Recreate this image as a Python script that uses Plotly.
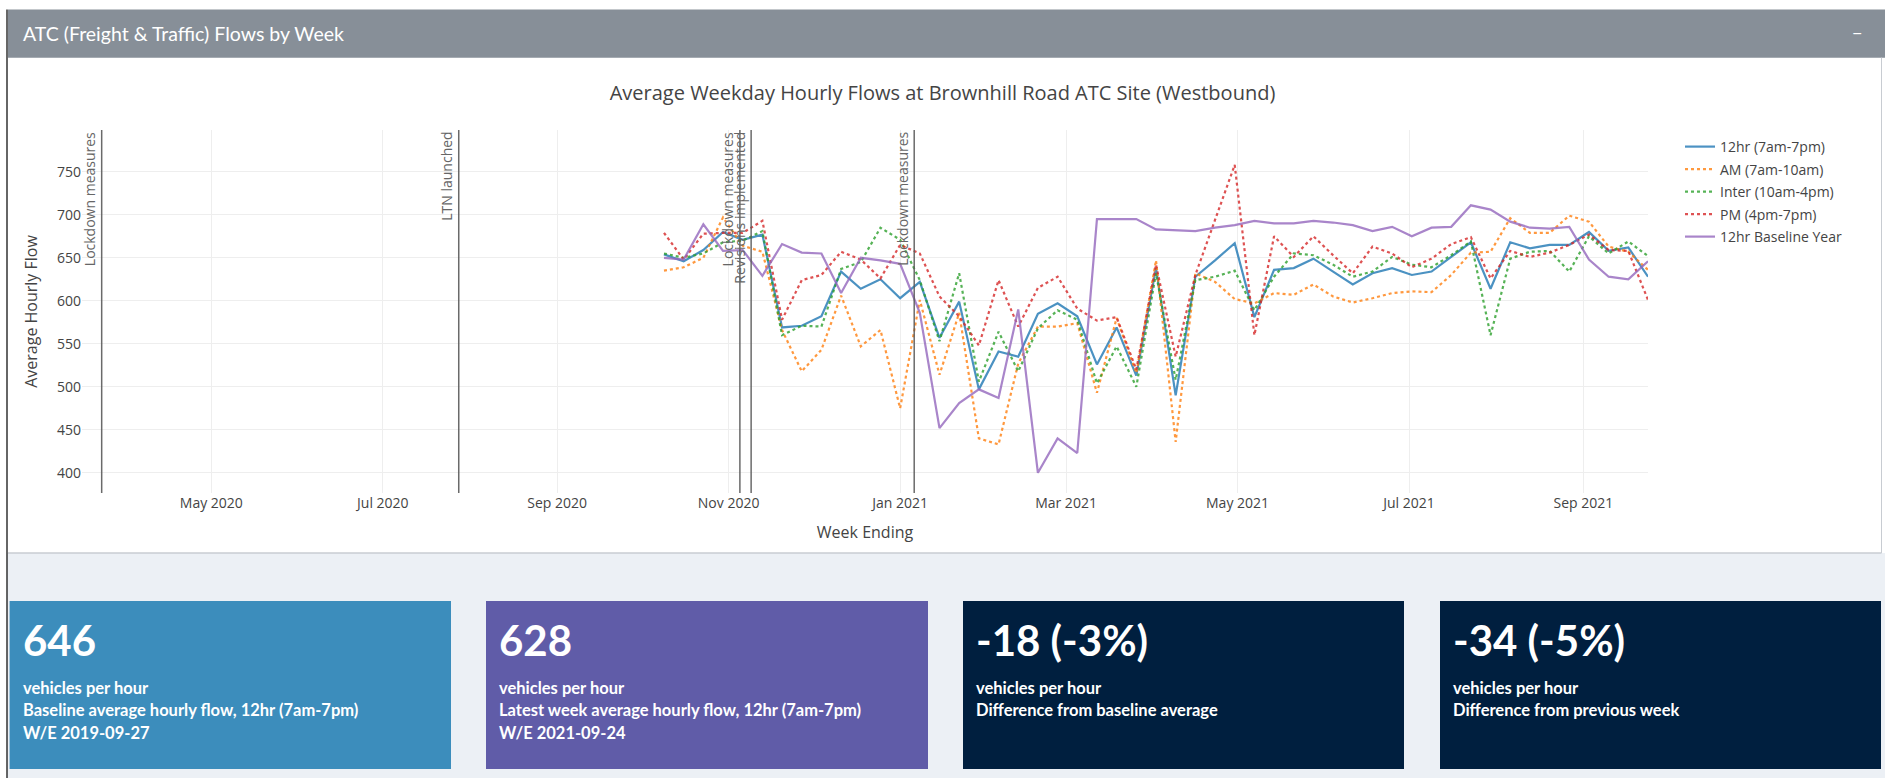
import pandas as pd
import plotly.graph_objects as go

# --- data (weekly, week ending Friday) ---
weeks = pd.date_range("2020-10-09", "2021-09-24", freq="7D")

flow_12hr = [654, 646, 659, 680, 671, 677, 569, 571, 582, 634, 614, 625, 603, 622, 557, 599, 497,
             541, 535, 585, 597, 582, 526, 569, 513, 638, 490, 628, 647, 667, 581, 636, 638, 649,
             634, 619, 632, 638, 630, 634, 651, 668, 614, 668, 661, 665, 665, 680, 658, 662, 628]
flow_am = [635, 639, 650, 697, 664, 657, 566, 518, 543, 606, 547, 566, 475, 601, 514, 586, 440,
           433, 527, 570, 570, 574, 493, 580, 516, 647, 436, 632, 622, 602, 597, 609, 607, 619,
           605, 598, 603, 609, 611, 610, 630, 656, 657, 696, 679, 679, 699, 692, 663, 657, 636]
flow_inter = [655, 650, 655, 668, 670, 681, 560, 571, 570, 637, 645, 685, 671, 624, 553, 632, 506,
              564, 518, 568, 589, 578, 504, 547, 500, 632, 508, 624, 628, 635, 589, 628, 655, 653,
              642, 628, 634, 651, 642, 639, 653, 669, 560, 649, 657, 658, 634, 675, 655, 669, 652]
flow_pm = [679, 648, 678, 679, 679, 693, 578, 624, 630, 657, 648, 626, 665, 655, 605, 582, 548,
           624, 570, 615, 628, 591, 577, 581, 520, 642, 535, 630, 694, 758, 560, 675, 651, 675,
           653, 632, 663, 655, 639, 649, 666, 674, 626, 658, 651, 656, 665, 677, 659, 658, 601]
flow_baseline = [650, 648, 689, 658, 659, 629, 666, 656, 655, 609, 650, 647, 643, 586, 452, 481, 497,
                 487, 590, 400, 440, 423, 695, 695, 695, 683, 682, 681, 685, 688, 693, 690, 690, 693,
                 691, 688, 681, 686, 675, 685, 686, 711, 706, 692, 685, 684, 686, 648, 628, 625, 646]

event_dates = ["2020-03-23", "2020-07-28", "2020-11-05", "2020-11-09", "2021-01-06"]
event_labels = ["Lockdown measures", "LTN launched", "Lockdown measures",
                "Revisions implemented", "Lockdown measures"]

box_values = ["646", "628", "-18 (-3%)", "-34 (-5%)"]
box_lines = [
    ["vehicles per hour", "Baseline average hourly flow, 12hr (7am-7pm)", "W/E 2019-09-27"],
    ["vehicles per hour", "Latest week average hourly flow, 12hr (7am-7pm)", "W/E 2021-09-24"],
    ["vehicles per hour", "Difference from baseline average"],
    ["vehicles per hour", "Difference from previous week"],
]
box_colors = ["#3c8dbc", "#605ca8", "#001f3f", "#001f3f"]

# --- page geometry (pixels) ---
W, H = 1885, 778
PL, PR, PT, PB = 82, 1648, 130, 493


def px(x):
    return (x - PL) / (PR - PL)


def py(y):
    return (PB - y) / (PB - PT)


series = [
    ("12hr (7am-7pm)", flow_12hr, "#1f77b4", "solid"),
    ("AM (7am-10am)", flow_am, "#ff7f0e", "dot"),
    ("Inter (10am-4pm)", flow_inter, "#2ca02c", "dot"),
    ("PM (4pm-7pm)", flow_pm, "#d62728", "dot"),
    ("12hr Baseline Year", flow_baseline, "#9467bd", "solid"),
]

fig = go.Figure()
for i, (name, vals, col, dash) in enumerate(series):
    fig.add_trace(go.Scatter(
        x=weeks, y=vals, name=name, mode="lines", legendgroup=str(i),
        line=dict(color=col, width=2.2, dash=dash), opacity=0.8,
    ))

shapes = []
# page background pieces
shapes.append(dict(type="rect", xref="paper", yref="paper", x0=px(7), x1=px(W), y0=py(553), y1=py(H),
                   fillcolor="#ecf0f5", line_width=0, layer="below"))
shapes.append(dict(type="rect", xref="paper", yref="paper", x0=px(8), x1=px(W), y0=py(57.7), y1=py(9.6),
                   fillcolor="#878f98", line_width=0, layer="below"))
shapes.append(dict(type="line", xref="paper", yref="paper", x0=px(7), x1=px(7), y0=py(9.6), y1=py(H),
                   line=dict(color="#333333", width=1.5), layer="below"))
shapes.append(dict(type="line", xref="paper", yref="paper", x0=px(1881.5), x1=px(1881.5), y0=py(57.7), y1=py(553),
                   line=dict(color="#c8ccd2", width=1), layer="below"))
shapes.append(dict(type="line", xref="paper", yref="paper", x0=px(8), x1=px(1881.5), y0=py(553), y1=py(553),
                   line=dict(color="#c8ccd2", width=1.5), layer="below"))

box_x = [(9.6, 451), (486, 928), (963, 1404), (1440, 1881)]
for (bx0, bx1), col in zip(box_x, box_colors):
    shapes.append(dict(type="rect", xref="paper", yref="paper", x0=px(bx0), x1=px(bx1), y0=py(769), y1=py(601),
                       fillcolor=col, line_width=0, layer="below"))

# event lines
for d in event_dates:
    shapes.append(dict(type="line", xref="x", yref="paper", x0=d, x1=d, y0=0, y1=1,
                       line=dict(color="rgba(90,90,90,0.9)", width=1.5)))

annotations = []
annotations.append(dict(text="ATC (Freight & Traffic) Flows by Week", xref="paper", yref="paper",
                        x=px(21), y=py(33.7), xanchor="left", yanchor="middle", showarrow=False,
                        font=dict(family="Lato", size=19.5, color="white")))
annotations.append(dict(text="\u2212", xref="paper", yref="paper", x=px(1857), y=py(32),
                        xanchor="center", yanchor="middle", showarrow=False,
                        font=dict(family="Lato", size=18, color="white")))

for d, lab in zip(event_dates, event_labels):
    annotations.append(dict(text=lab, xref="x", yref="paper", x=d, y=1, textangle=-90,
                            xanchor="right", yanchor="top", showarrow=False, xshift=-1,
                            font=dict(family="Open Sans", size=14, color="#666666")))

for (bx0, bx1), val, lines in zip(box_x, box_values, box_lines):
    annotations.append(dict(text="<b>%s</b>" % val, xref="paper", yref="paper", x=px(bx0 + 11), y=py(640),
                            xanchor="left", yanchor="middle", showarrow=False,
                            font=dict(family="Lato", size=42, color="white")))
    for j, ln in enumerate(lines):
        annotations.append(dict(text="<b>%s</b>" % ln, xref="paper", yref="paper", x=px(bx0 + 11),
                                y=py(687.6 + 22.8 * j), xanchor="left", yanchor="middle", showarrow=False,
                                font=dict(family="Lato", size=16.5, color="white")))

fig.update_layout(
    width=W, height=H,
    margin=dict(l=PL, r=W - PR, t=PT, b=H - PB),
    paper_bgcolor="white", plot_bgcolor="white",
    font=dict(family="Open Sans", color="#444444"),
    title=dict(text="Average Weekday Hourly Flows at Brownhill Road ATC Site (Westbound)",
               x=0.5, xanchor="center", y=1 - 92.6 / H, yanchor="middle",
               font=dict(family="Open Sans", size=20, color="#444444")),
    xaxis=dict(range=["2020-03-16", "2021-09-24"], dtick="M2", tick0="2020-01-01",
               tickformat="%b %Y", tickfont=dict(size=14), showgrid=True, gridcolor="#eeeeee",
               zeroline=False, title=dict(text="Week Ending", font=dict(size=16))),
    yaxis=dict(range=[376.5, 798.6], tickvals=[400, 450, 500, 550, 600, 650, 700, 750],
               tickfont=dict(size=14), gridcolor="#eeeeee", zeroline=False,
               title=dict(text="Average Hourly Flow", font=dict(size=16))),
    legend=dict(x=px(1680), y=py(131), xanchor="left", yanchor="top", tracegroupgap=1.3,
                font=dict(size=14, color="#444444"), bgcolor="rgba(0,0,0,0)"),
    shapes=shapes, annotations=annotations,
)

# the page body's default 8px margin would shift the whole dashboard
fig.write_html("out.html", config={"displayModeBar": False},
               post_script="document.body.style.margin='0';document.body.style.overflow='hidden';")
